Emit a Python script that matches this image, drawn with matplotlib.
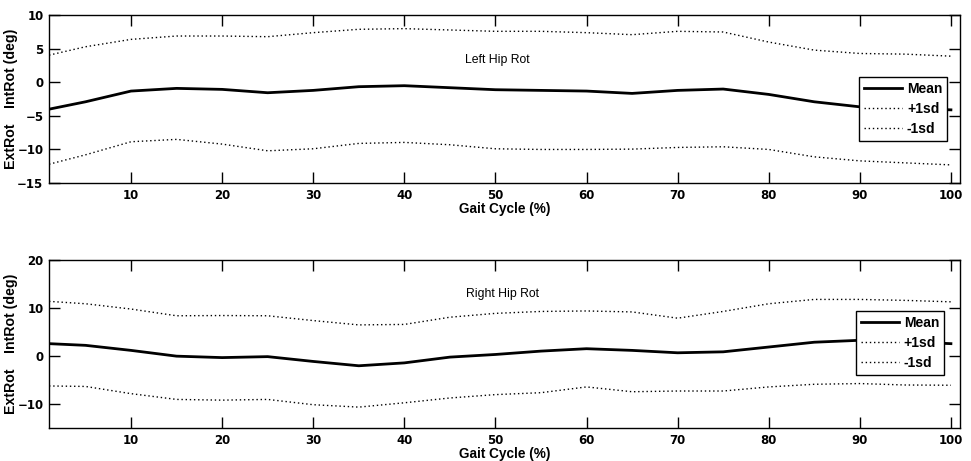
"""Hip rotation gait plots: mean and +/-1sd bands for left and right."""
import matplotlib.pyplot as plt

plt.rcParams['font.family'] = ['Liberation Sans', 'DejaVu Sans']

gait = [1, 5, 10, 15, 20, 25, 30, 35, 40, 45, 50, 55, 60, 65, 70, 75, 80, 85, 90, 95, 100]

left_mean = [-4.0, -2.9, -1.3, -0.9, -1.05, -1.55, -1.2, -0.65, -0.5, -0.8, -1.1,
             -1.2, -1.3, -1.65, -1.2, -1.0, -1.8, -2.9, -3.65, -3.85, -4.1]
left_plus = [4.05, 5.3, 6.4, 6.9, 6.9, 6.8, 7.4, 7.9, 8.0, 7.8, 7.6,
             7.6, 7.4, 7.1, 7.6, 7.5, 6.0, 4.8, 4.3, 4.2, 3.9]
left_minus = [-12.2, -10.8, -8.85, -8.5, -9.2, -10.2, -9.9, -9.1, -8.95, -9.3, -9.9,
              -10.0, -10.0, -9.95, -9.7, -9.6, -10.0, -11.1, -11.7, -12.0, -12.3]

right_mean = [2.6, 2.25, 1.2, 0.0, -0.3, -0.1, -1.1, -2.0, -1.4, -0.2, 0.35,
              1.05, 1.55, 1.2, 0.7, 0.9, 1.9, 2.9, 3.3, 3.0, 2.6]
right_plus = [11.4, 10.9, 9.8, 8.4, 8.45, 8.4, 7.4, 6.5, 6.6, 8.1, 8.9,
              9.3, 9.4, 9.2, 7.9, 9.3, 10.9, 11.8, 11.8, 11.6, 11.3]
right_minus = [-6.2, -6.3, -7.8, -9.0, -9.15, -9.0, -10.1, -10.6, -9.7, -8.7, -8.0,
               -7.6, -6.4, -7.4, -7.25, -7.25, -6.4, -5.85, -5.7, -6.0, -6.05]

x_ticks = [10, 20, 30, 40, 50, 60, 70, 80, 90, 100]


def draw_panel(ax, mean, plus, minus, title, ylim, yticks, title_xy, legend_anchor):
    ax.plot(gait, mean, color='black', linewidth=2.0, label='Mean')
    ax.plot(gait, plus, color='black', linestyle=(0, (1, 2)), linewidth=1.0, label='+1sd')
    ax.plot(gait, minus, color='black', linestyle=(0, (1, 2)), linewidth=1.0, label='-1sd')
    ax.set_xlim(1, 101)
    ax.set_ylim(*ylim)
    ax.set_xticks(x_ticks)
    ax.set_yticks(yticks)
    ax.tick_params(direction='in', length=8, width=1.0, top=True, right=True, pad=4)
    for lab in ax.get_xticklabels() + ax.get_yticklabels():
        lab.set_fontweight('bold')
        lab.set_fontfamily('DejaVu Sans')
        lab.set_fontsize(8.5)
    for sp in ax.spines.values():
        sp.set_linewidth(1.0)
    ax.text(title_xy[0], title_xy[1], title, fontsize=8.8, ha='center', va='center')
    ax.set_xlabel('Gait Cycle (%)', fontsize=9.8, fontweight='bold', labelpad=0)
    ax.set_ylabel('ExtRot    IntRot (deg)', fontsize=10.2, fontweight='bold')
    ax.yaxis.set_label_coords(-0.034, 0.5)
    leg = ax.legend(loc='upper left', bbox_to_anchor=legend_anchor, borderaxespad=0,
                    frameon=True, fancybox=False, edgecolor='black', framealpha=1.0,
                    prop={'weight': 'bold', 'size': 10}, handlelength=2.75,
                    handletextpad=0.35, borderpad=0.36, labelspacing=0.44)
    leg.get_frame().set_linewidth(1.0)


fig = plt.figure(figsize=(9.71, 4.61), dpi=100)
ax1 = fig.add_axes([0.0505, 0.603, 0.9382, 0.364])
ax2 = fig.add_axes([0.0505, 0.071, 0.9382, 0.365])

draw_panel(ax1, left_mean, left_plus, left_minus, 'Left Hip Rot', (-15, 10),
           [-15, -10, -5, 0, 5, 10], (50.2, 3.3), (0.889, 0.631))
draw_panel(ax2, right_mean, right_plus, right_minus, 'Right Hip Rot', (-15, 20),
           [-10, 0, 10, 20], (50.8, 13), (0.8855, 0.699))

fig.savefig('out.png', dpi=100)
